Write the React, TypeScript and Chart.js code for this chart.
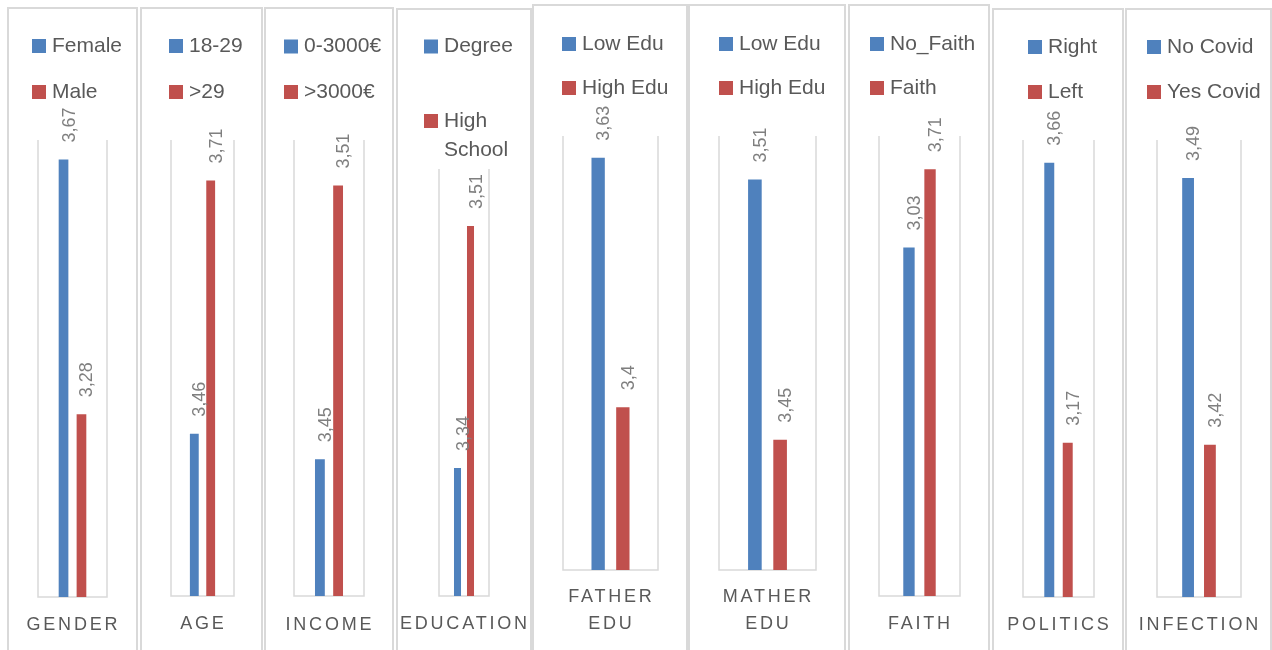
import React, { useEffect, useRef } from "react";
import { Chart, registerables } from "chart.js";

Chart.register(...registerables);

// ---- data ----
const categories = ["GENDER", "AGE", "INCOME", "EDUCATION", "FATHER EDU", "MATHER EDU", "FAITH", "POLITICS", "INFECTION"];
const firstGroupLabels = ["Female", "18-29", "0-3000€", "Degree", "Low Edu", "Low Edu", "No_Faith", "Right", "No Covid"];
const secondGroupLabels = ["Male", ">29", ">3000€", "High School", "High Edu", "High Edu", "Faith", "Left", "Yes Covid"];
const firstGroupValues = [3.67, 3.46, 3.45, 3.34, 3.63, 3.51, 3.03, 3.66, 3.49];
const secondGroupValues = [3.28, 3.71, 3.51, 3.51, 3.4, 3.45, 3.71, 3.17, 3.42];
const axisMin = [3.0, 3.3, 3.42, 3.25, 3.25, 3.42, 0, 2.9, 3.38];
const axisMax = [3.7, 3.75, 3.52, 3.55, 3.65, 3.52, 4, 3.7, 3.5];

// ---- layout / styles ----
const BLUE = "#4F81BD";
const RED = "#C0504D";
const FONT = '"Liberation Sans", Arial, sans-serif';

type Layout = {
  left: number; right: number; top: number;
  plot: [number, number, number, number];
  legendX: number; legendY: [number, number];
  wrapLegend?: boolean; wrapCategory?: boolean;
  categoryY: number[];
};

const layouts: Layout[] = [
  { left: 8, right: 137, top: 8, plot: [38, 107, 140, 597], legendX: 32, legendY: [46, 92], categoryY: [625] },
  { left: 141, right: 262, top: 8, plot: [171, 234, 140, 596], legendX: 169, legendY: [46, 92], categoryY: [624] },
  { left: 265, right: 393, top: 8, plot: [294, 364, 140, 596], legendX: 284, legendY: [46.5, 92], categoryY: [625] },
  { left: 397, right: 531, top: 9, plot: [439, 489, 169, 596], legendX: 424, legendY: [46.5, 121], wrapLegend: true, categoryY: [624] },
  { left: 533, right: 687, top: 5, plot: [563, 658, 136, 570], legendX: 562, legendY: [44, 88], wrapCategory: true, categoryY: [597, 624] },
  { left: 689, right: 845, top: 5, plot: [719, 816, 136, 570], legendX: 719, legendY: [44, 88], wrapCategory: true, categoryY: [597, 624] },
  { left: 849, right: 989, top: 5, plot: [879, 960, 136, 596], legendX: 870, legendY: [44, 88], categoryY: [624] },
  { left: 993, right: 1123, top: 9, plot: [1023, 1094, 140, 597], legendX: 1028, legendY: [47, 92], categoryY: [625] },
  { left: 1126, right: 1271, top: 9, plot: [1157, 1241, 140, 597], legendX: 1147, legendY: [47, 92], categoryY: [625] },
];

const fmt = (v: number) => String(v).replace(".", ",");

function Panel({ index }: { index: number }) {
  const ref = useRef<HTMLCanvasElement | null>(null);
  const L = layouts[index];
  const ox = L.left - 1;
  const oy = L.top - 1;
  const cw = L.right - L.left + 2;
  const ch = 650 - oy;

  useEffect(() => {
    if (!ref.current) return;
    const [pl, pr, pt, pb] = L.plot;
    const decor = {
      id: "decor" + index,
      beforeDatasetsDraw(chart: any) {
        const { ctx, chartArea } = chart;
        ctx.save();
        ctx.strokeStyle = "#d9d9d9";
        ctx.lineWidth = 1.5;
        ctx.beginPath();
        ctx.moveTo(chartArea.left, chartArea.top);
        ctx.lineTo(chartArea.left, chartArea.bottom);
        ctx.lineTo(chartArea.right, chartArea.bottom);
        ctx.lineTo(chartArea.right, chartArea.top);
        ctx.stroke();
        ctx.restore();
      },
      afterDatasetsDraw(chart: any) {
        const { ctx, chartArea } = chart;
        ctx.save();
        // data labels (rotated)
        chart.data.datasets.forEach((ds: any, i: number) => {
          const el = chart.getDatasetMeta(i).data[0];
          if (!el) return;
          ctx.save();
          ctx.translate(el.x + 11, el.y - 17);
          ctx.rotate(-Math.PI / 2);
          ctx.font = `18px ${FONT}`;
          ctx.fillStyle = "#7f7f7f";
          ctx.textAlign = "left";
          ctx.textBaseline = "alphabetic";
          ctx.fillText(fmt(ds.data[0]), 0, 0);
          ctx.restore();
        });
        // legend
        ctx.font = `21px ${FONT}`;
        ctx.textBaseline = "middle";
        ctx.textAlign = "left";
        chart.data.datasets.forEach((ds: any, i: number) => {
          const cy = L.legendY[i] - oy;
          const bx = L.legendX - ox;
          ctx.fillStyle = ds.backgroundColor;
          ctx.fillRect(bx, cy - 7, 14, 14);
          ctx.fillStyle = "#595959";
          const lines = L.wrapLegend && i === 1 ? String(ds.label).split(" ") : [String(ds.label)];
          lines.forEach((t: string, k: number) => ctx.fillText(t, bx + 20, cy + k * 29));
        });
        // category label
        const label = String(chart.data.labels[0]);
        const lines = L.wrapCategory ? label.split(" ") : [label];
        const sp = 2.8;
        ctx.font = `18px ${FONT}`;
        (ctx as any).letterSpacing = sp + "px";
        ctx.fillStyle = "#595959";
        const cx = (chartArea.left + chartArea.right) / 2 - 0.5;
        lines.forEach((t: string, k: number) => {
          const w = ctx.measureText(t).width;
          ctx.fillText(t, cx - (w - sp) / 2, L.categoryY[k] - oy);
        });
        (ctx as any).letterSpacing = "0px";
        ctx.restore();
      },
    };

    const chart = new Chart(ref.current, {
      type: "bar",
      data: {
        labels: [categories[index]],
        datasets: [
          { label: firstGroupLabels[index], data: [firstGroupValues[index]], backgroundColor: BLUE, categoryPercentage: 0.52, barPercentage: 0.54 },
          { label: secondGroupLabels[index], data: [secondGroupValues[index]], backgroundColor: RED, categoryPercentage: 0.52, barPercentage: 0.54 },
        ],
      },
      options: {
        responsive: false,
        maintainAspectRatio: false,
        animation: false,
        layout: {
          padding: { left: pl - ox, top: pt - oy, right: ox + cw - pr, bottom: oy + ch - pb },
        },
        scales: {
          x: { display: false, offset: true },
          y: { display: false, min: axisMin[index], max: axisMax[index] },
        },
        plugins: { legend: { display: false }, tooltip: { enabled: false } },
      },
      plugins: [decor],
    } as any);
    return () => chart.destroy();
  }, [index]);

  return (
    <>
      <div
        style={{
          position: "absolute",
          left: ox,
          top: oy,
          width: cw,
          height: ch + 4,
          border: "2px solid #d9d9d9",
          boxSizing: "border-box",
        }}
      />
      <canvas
        ref={ref}
        width={cw}
        height={ch}
        style={{ position: "absolute", left: ox, top: oy, width: cw, height: ch }}
      />
    </>
  );
}

export default function App() {
  return (
    <div
      style={{
        position: "absolute",
        left: 0,
        top: 0,
        width: 1272,
        height: 650,
        overflow: "hidden",
        background: "#ffffff",
      }}
    >
      {layouts.map((_, i) => (
        <Panel key={i} index={i} />
      ))}
    </div>
  );
}
